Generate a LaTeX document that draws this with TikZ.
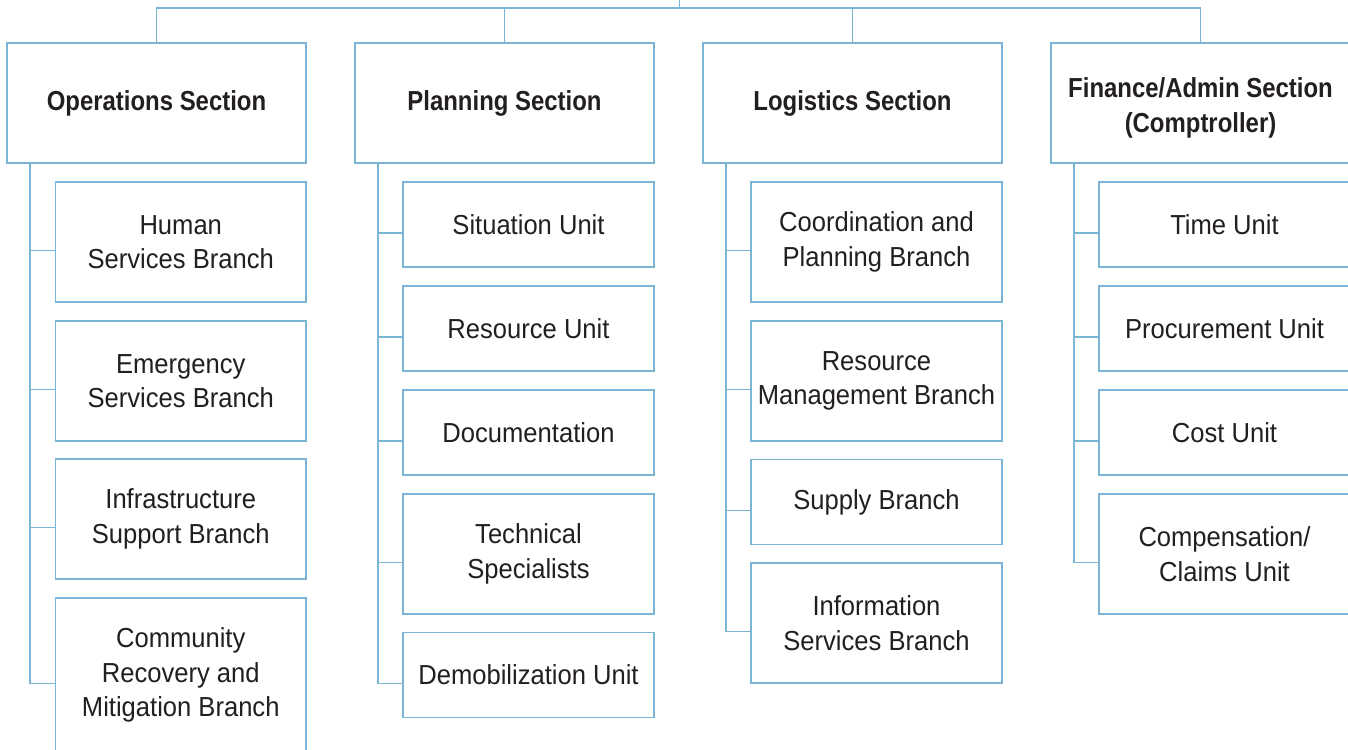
\documentclass[tikz,border=0pt]{standalone}
\usepackage{fontspec}
\usetikzlibrary{calc}
\newfontfamily\regfont{Liberation Sans}[FakeStretch=0.93]
\newfontfamily\secfont{Liberation Sans}[FakeStretch=0.87]
\definecolor{linecol}{RGB}{122,181,214}
\definecolor{txtcol}{RGB}{35,31,32}
\tikzset{
  base/.style={draw=linecol, line width=1.8pt, rectangle, inner sep=0pt, align=center, text=txtcol},
  secbox/.style={base, minimum width=299pt, minimum height=120pt, font=\secfont\bfseries\fontsize{27.5}{35}\selectfont},
  unitbox/.style={base, minimum width=250.5pt, font=\regfont\fontsize{27.5}{34.5}\selectfont},
  tall/.style={minimum height=120pt},
  short/.style={minimum height=85pt},
  conn/.style={draw=linecol, line width=1.8pt}
}
\begin{document}
\begin{tikzpicture}[x=1pt,y=-1pt]
\useasboundingbox (0,0) rectangle (1348,749);
\clip (0,0) rectangle (1348,749);
\fill[white] (0,0) rectangle (1348,749);

% sections
\node[secbox] (ops)  at (156.5,103) {Operations Section};
\node[secbox] (plan) at (504.5,103) {Planning Section};
\node[secbox] (log)  at (852.5,103) {Logistics Section};
\node[secbox] (fin)  at (1200.5,103) {\rule{0pt}{29pt}Finance/Admin Section\\(Comptroller)};

% top connectors
\coordinate (stub) at (679.5,-2);
\coordinate (top) at (679.5,8);
\draw[conn] (stub) -- (top);
\draw[conn] (ops.north) |- (top) -| (fin.north);
\draw[conn] (plan.north) -- (plan.north |- top);
\draw[conn] (log.north) -- (log.north |- top);

% operations units
\node[unitbox,tall] (hum) at (180.75,242) {Human\\Services Branch};
\node[unitbox,tall] (emg) at (180.75,381) {Emergency\\Services Branch};
\node[unitbox,tall] (inf) at (180.75,519) {Infrastructure\\Support Branch};
\node[unitbox,minimum height=154pt] (com) at (180.75,675) {Community\\Recovery and\\Mitigation Branch};

% planning units
\node[unitbox,short] (sit) at (528.5,224.5) {Situation Unit};
\node[unitbox,short] (res) at (528.5,328.5) {Resource Unit};
\node[unitbox,short] (doc) at (528.5,432.5) {Documentation};
\node[unitbox,tall]  (tec) at (528.5,554) {Technical\\Specialists};
\node[unitbox,short] (dem) at (528.5,675) {Demobilization Unit};

% logistics units
\node[unitbox,tall]  (coo) at (876.5,242) {Coordination and\\Planning Branch};
\node[unitbox,tall]  (rmb) at (876.5,381) {Resource\\Management Branch};
\node[unitbox,short] (sup) at (876.5,502) {Supply Branch};
\node[unitbox,tall]  (isb) at (876.5,623) {Information\\Services Branch};

% finance units
\node[unitbox,short] (tim) at (1224.5,224.5) {Time Unit};
\node[unitbox,short] (pro) at (1224.5,328.5) {Procurement Unit};
\node[unitbox,short] (cst) at (1224.5,432.5) {Cost Unit};
\node[unitbox,tall]  (cmp) at (1224.5,554) {Compensation/\\Claims Unit};

% spines
\coordinate (opsS) at ($(ops.south west)+(24,0)$);
\coordinate (planS) at ($(plan.south west)+(24,0)$);
\coordinate (logS) at ($(log.south west)+(24,0)$);
\coordinate (finS) at ($(fin.south west)+(24,0)$);

\foreach \c in {hum,emg,inf,com}{\draw[conn] (opsS) |- ($(\c.west)+(0,8.5)$);}
\foreach \c in {sit,res,doc,tec,dem}{\draw[conn] (planS) |- ($(\c.west)+(0,8.5)$);}
\foreach \c in {coo,rmb,sup,isb}{\draw[conn] (logS) |- ($(\c.west)+(0,8.5)$);}
\foreach \c in {tim,pro,cst,cmp}{\draw[conn] (finS) |- ($(\c.west)+(0,8.5)$);}
\end{tikzpicture}
\end{document}
